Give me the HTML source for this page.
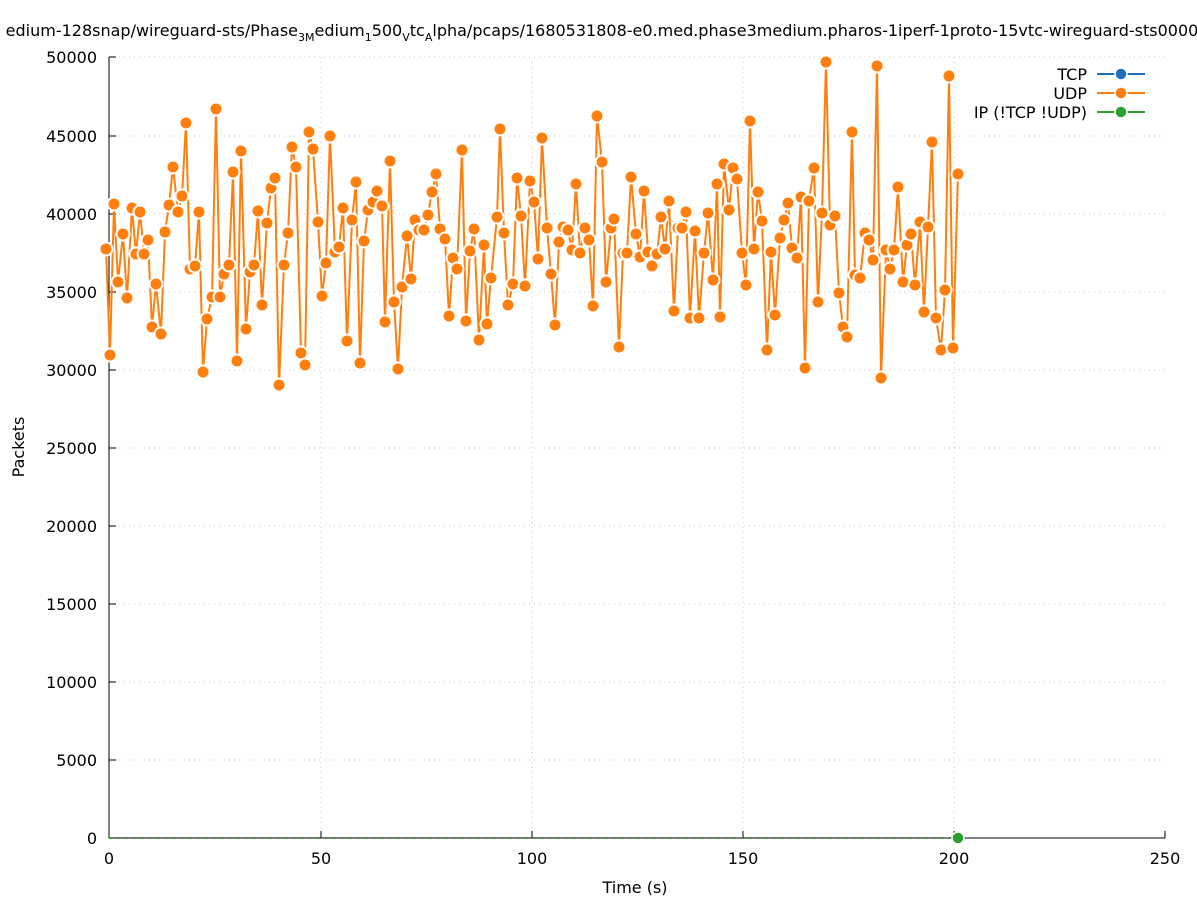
<!DOCTYPE html>
<html><head><meta charset="utf-8"><style>
html,body{margin:0;padding:0;background:#fff;}
svg{display:block;font-family:"DejaVu Sans","Liberation Sans",sans-serif;}
</style></head><body>
<svg id="s" width="1197" height="900" viewBox="0 0 1197 900" xmlns="http://www.w3.org/2000/svg">
<rect width="1197" height="900" fill="#fff"/>
<g stroke="#c8c8c8" stroke-width="1" stroke-dasharray="1,4">
<line x1="109" y1="760" x2="1165" y2="760"/><line x1="109" y1="682" x2="1165" y2="682"/>
<line x1="109" y1="604" x2="1165" y2="604"/><line x1="109" y1="526" x2="1165" y2="526"/>
<line x1="109" y1="448" x2="1165" y2="448"/><line x1="109" y1="370" x2="1165" y2="370"/>
<line x1="109" y1="292" x2="1165" y2="292"/><line x1="109" y1="214" x2="1165" y2="214"/>
<line x1="109" y1="136" x2="1165" y2="136"/><line x1="109" y1="57" x2="1165" y2="57"/>
<line x1="321" y1="57" x2="321" y2="838"/><line x1="532" y1="57" x2="532" y2="838"/>
<line x1="743" y1="57" x2="743" y2="838"/><line x1="954" y1="57" x2="954" y2="838"/>
</g>
<g stroke="#000" stroke-width="1">
<line x1="109" y1="57" x2="109" y2="838"/><line x1="109" y1="838" x2="1165" y2="838"/>
<line x1="109" y1="760" x2="116" y2="760"/><line x1="109" y1="682" x2="116" y2="682"/>
<line x1="109" y1="604" x2="116" y2="604"/><line x1="109" y1="526" x2="116" y2="526"/>
<line x1="109" y1="448" x2="116" y2="448"/><line x1="109" y1="370" x2="116" y2="370"/>
<line x1="109" y1="292" x2="116" y2="292"/><line x1="109" y1="214" x2="116" y2="214"/>
<line x1="109" y1="136" x2="116" y2="136"/><line x1="109" y1="57" x2="116" y2="57"/>
<line x1="321" y1="838" x2="321" y2="831"/><line x1="532" y1="838" x2="532" y2="831"/>
<line x1="743" y1="838" x2="743" y2="831"/><line x1="954" y1="838" x2="954" y2="831"/>
<line x1="1165" y1="838" x2="1165" y2="831"/>
</g>
<g font-size="16" text-anchor="end" fill="#000">
<text x="97" y="844">0</text><text x="97" y="766">5000</text><text x="97" y="688">10000</text>
<text x="97" y="610">15000</text><text x="97" y="532">20000</text><text x="97" y="454">25000</text>
<text x="97" y="376">30000</text><text x="97" y="298">35000</text><text x="97" y="220">40000</text>
<text x="97" y="142">45000</text><text x="97" y="63">50000</text>
</g>
<g font-size="16" text-anchor="middle">
<text x="109" y="864">0</text><text x="321" y="864">50</text><text x="532" y="864">100</text>
<text x="743" y="864">150</text><text x="954" y="864">200</text><text x="1165" y="864">250</text>
<text x="635" y="893">Time (s)</text>
<text transform="translate(24,447) rotate(-90)">Packets</text>
<text x="602" y="36" font-size="16">edium-128snap/wireguard-sts/Phase<tspan font-size="11" dy="5">3M</tspan><tspan dy="-5">edium</tspan><tspan font-size="11" dy="5">1</tspan><tspan dy="-5">500</tspan><tspan font-size="11" dy="5">V</tspan><tspan dy="-5">tc</tspan><tspan font-size="11" dy="5">A</tspan><tspan dy="-5">lpha/pcaps/1680531808-e0.med.phase3medium.pharos-1iperf-1proto-15vtc-wireguard-sts0000</tspan></text>
</g>
<line x1="109" y1="838" x2="958" y2="838" stroke="#2ca02c" stroke-width="2" stroke-dasharray="2,6"/>
<circle cx="958" cy="838" r="6" fill="#2ca02c" stroke="#fff" stroke-width="1.5"/>
<g id="udp"></g>
<g font-size="16" text-anchor="end">
<text x="1087" y="80">TCP</text><text x="1087" y="99">UDP</text><text x="1087" y="118">IP (!TCP  !UDP)</text>
</g>
<line x1="1097" y1="74" x2="1145" y2="74" stroke="#1f6fbf" stroke-width="2"/>
<circle cx="1121" cy="74" r="6" fill="#1f6fbf" stroke="#fff" stroke-width="1.5"/>
<line x1="1097" y1="93" x2="1145" y2="93" stroke="#ff7f0e" stroke-width="2"/>
<circle cx="1121" cy="93" r="6" fill="#ff7f0e" stroke="#fff" stroke-width="1.5"/>
<line x1="1097" y1="112" x2="1145" y2="112" stroke="#2ca02c" stroke-width="2"/>
<circle cx="1121" cy="112" r="6" fill="#2ca02c" stroke="#fff" stroke-width="1.5"/>
</svg>
<script>
var p=[106,249,110,355,114,204,118,282,123,234,127,298,132,208,136,254,140,212,144,254,148,240,152,327,156,284,161,334,165,232,169,205,173,167,178,212,182,196,186,123,190,269,195,266,199,212,203,372,207,319,212,297,216,109,220,297,224,274,229,265,233,172,237,361,241,151,246,329,250,272,254,265,258,211,262,305,267,223,271,188,275,178,279,385,284,265,288,233,292,147,296,167,301,353,305,365,309,132,313,149,318,222,322,296,326,263,330,136,335,252,339,247,343,208,347,341,352,220,356,182,360,363,364,241,368,210,373,202,377,191,382,206,385,322,390,161,394,302,398,369,402,287,407,236,411,279,415,220,419,230,424,230,428,215,432,192,436,174,440,229,445,239,449,316,453,258,457,269,462,150,466,321,470,251,474,229,479,340,484,245,487,324,491,278,497,217,500,129,504,233,508,305,513,284,517,178,521,216,525,286,530,181,534,202,538,259,542,138,547,228,551,274,555,325,559,242,563,227,568,230,572,250,576,184,580,253,585,228,589,240,593,306,597,116,602,162,606,282,611,228,614,219,619,347,623,253,627,253,631,177,636,234,640,257,644,191,648,252,652,266,657,254,661,217,665,249,669,201,674,311,678,228,682,228,686,212,690,318,695,231,699,318,704,253,708,213,713,280,717,184,720,317,724,164,729,210,733,168,737,179,742,253,746,285,750,121,754,249,758,192,762,221,767,350,771,252,775,315,780,238,784,220,788,203,792,248,797,258,801,197,805,368,809,201,814,168,818,302,822,213,826,62,830,225,835,216,839,293,843,327,847,337,852,132,855,275,860,278,865,233,869,240,873,260,877,66,881,378,886,250,890,269,894,250,898,187,903,282,907,245,911,234,915,285,920,222,924,312,928,227,932,142,936,318,941,350,945,290,949,76,953,348,958,174];
var ns="http://www.w3.org/2000/svg",g=document.getElementById("udp");
var d="";for(var i=0;i<p.length;i+=2)d+=(i?"L":"M")+p[i]+","+p[i+1];
var pl=document.createElementNS(ns,"path");pl.setAttribute("d",d);pl.setAttribute("fill","none");pl.setAttribute("stroke","#ff7f0e");pl.setAttribute("stroke-width","2");g.appendChild(pl);
for(var i=0;i<p.length;i+=2){var c=document.createElementNS(ns,"circle");c.setAttribute("cx",p[i]);c.setAttribute("cy",p[i+1]);c.setAttribute("r","6.5");c.setAttribute("fill","#ff7f0e");c.setAttribute("stroke","#fff");c.setAttribute("stroke-width","2");g.appendChild(c);}
</script>
</body></html>
